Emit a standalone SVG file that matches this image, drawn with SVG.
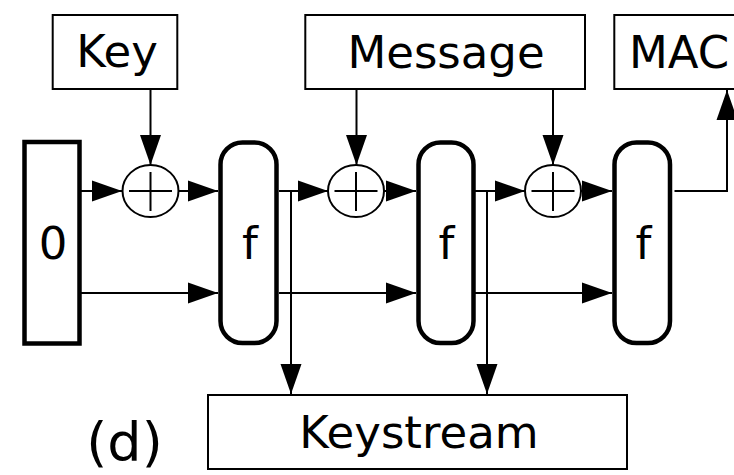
<svg xmlns="http://www.w3.org/2000/svg" width="734" height="475" viewBox="0 0 734 475">
  <style>
    .box { fill: #ffffff; stroke: #000000; stroke-width: 2; }
    .blk { fill: #ffffff; stroke: #000000; stroke-width: 4.5; }
    .xor { fill: #ffffff; stroke: #000000; stroke-width: 2; }
    .wire { fill: none; stroke: #000000; stroke-width: 2; }
    .lbl { font-family: "DejaVu Sans", Verdana, sans-serif; font-size: 45px; fill: #000000; }
  </style>
  <defs>
    <marker id="arrow" markerUnits="userSpaceOnUse" markerWidth="30" markerHeight="21" refX="30" refY="10.5" orient="auto" overflow="visible">
      <path d="M0,0 L30,10.5 L0,21 z" fill="#000000"/>
    </marker>
  </defs>

  <!-- connectors -->
  <g id="connectors" class="wire" marker-end="url(#arrow)">
    <line x1="81" y1="191" x2="122" y2="191"/>
    <line x1="178.5" y1="191" x2="218" y2="191"/>
    <line x1="279" y1="191" x2="328" y2="191"/>
    <line x1="384" y1="191" x2="416" y2="191"/>
    <line x1="475" y1="191" x2="525" y2="191"/>
    <line x1="581" y1="191" x2="612" y2="191"/>
    <line x1="150.5" y1="90" x2="150.5" y2="165"/>
    <line x1="356.5" y1="90" x2="356.5" y2="165"/>
    <line x1="553" y1="90" x2="553" y2="165"/>
    <line x1="81" y1="293" x2="218" y2="293"/>
    <line x1="279" y1="293" x2="416" y2="293"/>
    <line x1="475" y1="293" x2="612" y2="293"/>
    <line x1="291" y1="191" x2="291" y2="394"/>
    <line x1="487" y1="191" x2="487" y2="394"/>
    <polyline points="674.5,191 727,191 727,90"/>
  </g>

  <!-- inputs and outputs -->
  <g id="key">
    <rect class="box" x="52.7" y="15" width="124.6" height="74"/>
    <text class="lbl" x="117" y="67" text-anchor="middle">Key</text>
  </g>
  <g id="message">
    <rect class="box" x="305.3" y="15" width="279.7" height="74"/>
    <text class="lbl" x="446" y="68" text-anchor="middle">Message</text>
  </g>
  <g id="mac">
    <rect class="box" x="614.3" y="15" width="130" height="74"/>
    <text class="lbl" x="629" y="68">MAC</text>
  </g>
  <g id="keystream">
    <rect class="box" x="208" y="395" width="419" height="74"/>
    <text class="lbl" x="419" y="448" text-anchor="middle">Keystream</text>
  </g>

  <!-- initial state -->
  <g id="state0">
    <rect class="blk" x="24.5" y="142" width="55" height="201.5"/>
    <text class="lbl" x="53" y="259" text-anchor="middle">0</text>
  </g>

  <!-- XOR gates -->
  <g id="xor1">
    <ellipse class="xor" cx="150.5" cy="191" rx="28" ry="26"/>
    <path class="wire" d="M129,191 H172 M150.5,172 V211"/>
  </g>
  <g id="xor2">
    <ellipse class="xor" cx="356" cy="191" rx="28" ry="26"/>
    <path class="wire" d="M334.5,191 H377.5 M356,172 V211"/>
  </g>
  <g id="xor3">
    <ellipse class="xor" cx="553" cy="191" rx="28" ry="26"/>
    <path class="wire" d="M531.5,191 H574.5 M553,172 V211"/>
  </g>

  <!-- permutation blocks -->
  <g id="f1">
    <rect class="blk" x="220.5" y="142.5" width="56" height="200.5" rx="22" ry="22"/>
    <text class="lbl" x="250" y="259" text-anchor="middle">f</text>
  </g>
  <g id="f2">
    <rect class="blk" x="418.5" y="142.5" width="55" height="200.5" rx="22" ry="22"/>
    <text class="lbl" x="446.5" y="259" text-anchor="middle">f</text>
  </g>
  <g id="f3">
    <rect class="blk" x="614.5" y="142.5" width="55.5" height="200.5" rx="22" ry="22"/>
    <text class="lbl" x="643.5" y="259" text-anchor="middle">f</text>
  </g>

  <text class="lbl" x="124.5" y="461" text-anchor="middle" style="font-size:54px">(d)</text>
</svg>
